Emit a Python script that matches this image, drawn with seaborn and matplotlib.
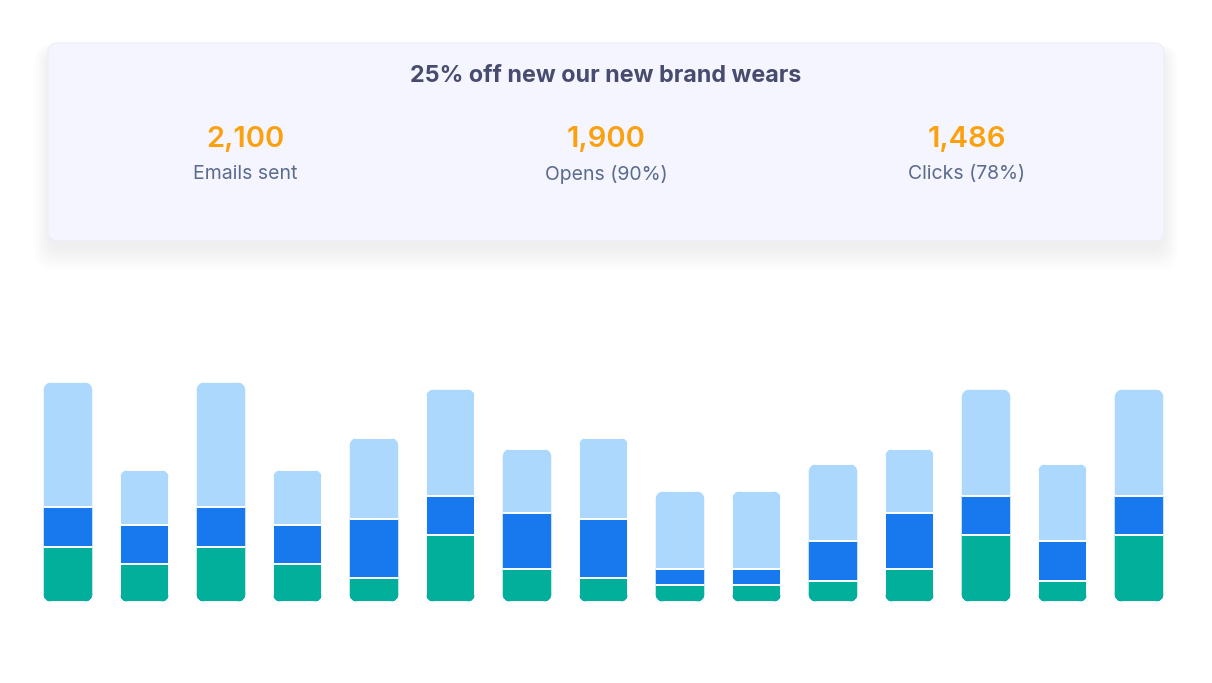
import numpy as np
import pandas as pd
import matplotlib.pyplot as plt
import seaborn as sns
from matplotlib.patches import FancyBboxPatch, PathPatch
from matplotlib.path import Path

# ==============================
# data
# ==============================
campaign = "25% off new our new brand wears"
stat_values = ["2,100", "1,900", "1,486"]
stat_labels = ["Emails sent", "Opens (90%)", "Clicks (78%)"]

days = [f"D{i}" for i in range(1, 16)]
clicks = [55, 38, 55, 38, 24, 66, 33, 24, 17, 17, 21, 33, 66, 21, 66]
opens = [39, 38, 39, 38, 58, 39, 55, 58, 16, 16, 39, 55, 39, 39, 39]
sent = [124, 55, 124, 55, 81, 106, 64, 81, 77, 77, 77, 64, 106, 77, 106]

df = pd.DataFrame({"day": days, "clicks": clicks, "opens": opens, "sent": sent})
df["lvl_opens"] = df["clicks"] + df["opens"]
df["lvl_total"] = df["lvl_opens"] + df["sent"]

c_teal, c_blue, c_light = "#02AF9A", "#1879EF", "#ACD8FE"


def rounded_rect(x, y, w, h, rx, ry, **kw):
    # rounded rectangle with separate x / y radii (axes aspect is not equal)
    verts = [
        (x + rx, y), (x + w - rx, y), (x + w, y), (x + w, y + ry),
        (x + w, y + h - ry), (x + w, y + h), (x + w - rx, y + h),
        (x + rx, y + h), (x, y + h), (x, y + h - ry),
        (x, y + ry), (x, y), (x + rx, y), (x + rx, y),
    ]
    codes = [Path.MOVETO, Path.LINETO, Path.CURVE3, Path.CURVE3,
             Path.LINETO, Path.CURVE3, Path.CURVE3,
             Path.LINETO, Path.CURVE3, Path.CURVE3,
             Path.LINETO, Path.CURVE3, Path.CURVE3, Path.CLOSEPOLY]
    return PathPatch(Path(verts, codes), **kw)


# ==============================
# theme / fonts
# ==============================
sns.set_theme(style="white")
plt.rcParams['font.family'] = ['Inter', 'DejaVu Sans']

W, H = 1212, 683
fig = plt.figure(figsize=(W / 100, H / 100), dpi=100)
fig.patch.set_facecolor("white")

# ==============================
# card on top (pixel coords)
# ==============================
bg = fig.add_axes([0, 0, 1, 1], zorder=0)
bg.set_xlim(0, W)
bg.set_ylim(H, 0)
bg.axis("off")

cx, cy, cw, ch = 48, 43, 1116, 198
for k in range(16):
    bg.add_patch(FancyBboxPatch((cx - k * 0.9, cy + 8 - k * 0.4), cw + k * 1.8, ch + k * 1.8,
                                boxstyle="round,pad=0,rounding_size=16",
                                facecolor="#A0A4B0", edgecolor="none", alpha=0.0032))
bg.add_patch(FancyBboxPatch((cx, cy), cw, ch, boxstyle="round,pad=0,rounding_size=10",
                            facecolor="#F4F5FE", edgecolor="#EEEFF8", linewidth=1.0))

bg.text(606, 76, campaign, ha="center", va="center", fontsize=16.8, fontweight="bold",
        color="#474B6E")
for xc, val, lab in zip([245, 606, 967], stat_values, stat_labels):
    bg.text(xc, 140, val, ha="center", va="center", fontsize=21, fontweight="semibold",
            color="#FBA10E")
    bg.text(xc, 174, lab, ha="center", va="center", fontsize=14, color="#5B6B8E")

# ==============================
# stacked bars
# ==============================
x0, x1 = 29.7, 1177.3
base, top = 602, 370
ymax = 230
ax = fig.add_axes([x0 / W, 1 - base / H, (x1 - x0) / W, (base - top) / H], zorder=1)
ax.patch.set_alpha(0)

bw = 0.645
for col, c in [("lvl_total", c_light), ("lvl_opens", c_blue), ("clicks", c_teal)]:
    sns.barplot(data=df, x="day", y=col, order=days, color=c, width=bw, ax=ax,
                edgecolor="white", linewidth=1.4, saturation=1)

ax.set_xlim(-0.5, len(days) - 0.5)
ax.set_ylim(0, ymax)
ax.set_xlabel("")
ax.set_ylabel("")
ax.set_xticks([])
ax.set_yticks([])
sns.despine(ax=ax, left=True, bottom=True)

# rounded outline for every column, used as clip path
ext = ax.get_window_extent()
px = ext.width / len(days)
py = ext.height / ymax
rad = 10
clips = [rounded_rect(i - bw / 2, 0, bw, t, rad / px, rad / py, transform=ax.transData)
         for i, t in enumerate(df["lvl_total"])]
for p in ax.patches:
    i = int(round(p.get_x() + p.get_width() / 2))
    p.set_clip_path(clips[i])

fig.savefig("out.png", dpi=100)
